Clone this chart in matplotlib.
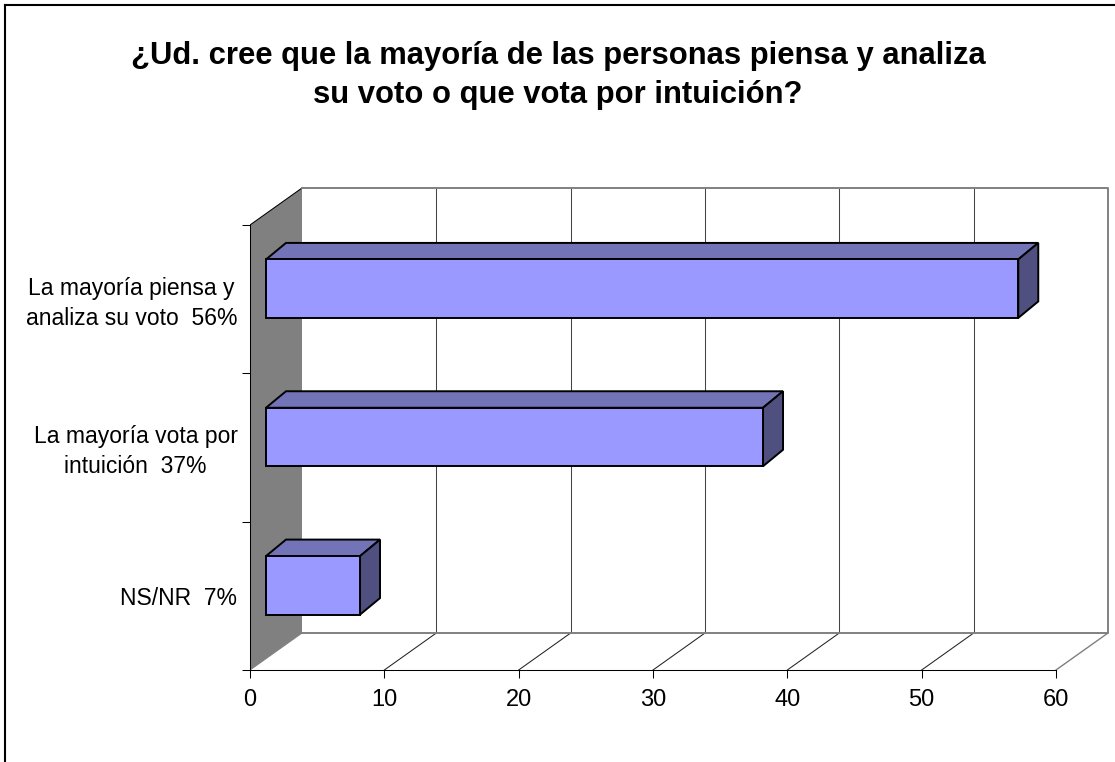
#!/usr/bin/env python3
# -*- coding: utf-8 -*-
import matplotlib
matplotlib.use('Agg')
import matplotlib.pyplot as plt
from matplotlib.lines import Line2D
from matplotlib.patches import Polygon
from matplotlib.transforms import ScaledTranslation

plt.rcParams['font.family'] = ['Liberation Sans', 'DejaVu Sans']

# Data (bottom to top as drawn)
categories = ['NS/NR  7%', 'La mayoría vota por\nintuición  37%', 'La mayoría piensa y\nanaliza su voto  56%']
values = [7, 37, 56]
x_ticks = [0, 10, 20, 30, 40, 50, 60]
title = '¿Ud. cree que la mayoría de las personas piensa y analiza\nsu voto o que vota por intuición?'

W, H = 1115, 762
# pixel layout of the plot box
left, right, top, bottom = 250, 1108, 187.5, 670
px_x = (1056 - 250) / 60      # pixels per value unit
px_y = (670 - 225) / 3        # pixels per category

# fake 3D offsets, converted to data units
wall_dx = 52 / px_x
wall_dy = 37 / px_y
bar_x0 = 16 / px_x
bar_y0 = 10.5 / px_y
bar_dx = 20 / px_x
bar_dy = 16.5 / px_y
bar_h = 58.5 / px_y

FACE = '#9999FF'
TOP = '#7373B8'
SIDE = '#4F4F80'
WALL = '#808080'
GRID = '#444444'

fig = plt.figure(figsize=(W / 100, H / 100), dpi=100, facecolor='white')
ax = fig.add_axes([left / W, 1 - bottom / H, (right - left) / W, (bottom - top) / H])
ax.set_xlim(0, (right - left) / px_x)
ax.set_ylim(0, (bottom - top) / px_y)
ax.patch.set_visible(False)

n = len(categories)
y_top = n + wall_dy
x_end = x_ticks[-1]

# side wall
ax.add_patch(Polygon([(0, 0), (wall_dx, wall_dy), (wall_dx, y_top), (0, n)],
                     closed=True, fc=WALL, ec='none', zorder=1))
ax.plot([0, wall_dx], [n, y_top], color='black', lw=0.75, zorder=2)
ax.plot([0, wall_dx], [0, wall_dy], color=WALL, lw=0.75, zorder=2)

# back wall and floor
for v in x_ticks[1:-1]:
    ax.plot([v + wall_dx, v + wall_dx], [wall_dy, y_top], color=GRID, lw=0.75, zorder=2, clip_on=False)
    ax.plot([v, v + wall_dx], [0, wall_dy], color='#222222', lw=0.75, zorder=2)
ax.plot([wall_dx, x_end + wall_dx, x_end + wall_dx, wall_dx],
        [y_top, y_top, wall_dy, wall_dy], color=WALL, lw=1.4, zorder=2, clip_on=False)
ax.plot([x_end, x_end + wall_dx], [0, wall_dy], color=WALL, lw=1, zorder=2, clip_on=False)

# bars
ys = [i + 0.5 + bar_y0 for i in range(n)]
ax.barh(ys, values, height=bar_h, left=bar_x0, color=FACE, edgecolor='black', linewidth=1.4, zorder=4)
for y, v in zip(ys, values):
    x0 = bar_x0
    x1 = bar_x0 + v
    y0 = y - bar_h / 2
    y1 = y + bar_h / 2
    ax.add_patch(Polygon([(x0, y1), (x1, y1), (x1 + bar_dx, y1 + bar_dy), (x0 + bar_dx, y1 + bar_dy)],
                         closed=True, fc=TOP, ec='black', lw=1.4, zorder=3))
    ax.add_patch(Polygon([(x1, y0), (x1 + bar_dx, y0 + bar_dy), (x1 + bar_dx, y1 + bar_dy), (x1, y1)],
                         closed=True, fc=SIDE, ec='black', lw=1.4, zorder=3))

# axes
for s in ['top', 'right']:
    ax.spines[s].set_visible(False)
ax.spines['left'].set_bounds(0, n)
ax.spines['bottom'].set_bounds(0, x_end)
ax.spines['left'].set_linewidth(0.75)
ax.spines['bottom'].set_linewidth(0.75)
ax.set_xticks(x_ticks)
ax.tick_params(axis='x', length=5.8, width=0.75, labelsize=17, pad=8)
ax.set_yticks(range(n + 1))
ax.set_yticklabels([])
ax.tick_params(axis='y', which='major', length=5.8, width=0.75)
ax.set_yticks([i + 0.5 for i in range(n)], minor=True)
labels = ax.set_yticklabels(categories, minor=True, fontsize=16.5, linespacing=1.4, multialignment='center')
ax.tick_params(axis='y', which='minor', length=0, pad=9)

# two line labels sit a bit higher in the original
nudge = ScaledTranslation(0, 2 / 100, fig.dpi_scale_trans)
for lbl in labels:
    if '\n' in lbl.get_text():
        lbl.set_transform(lbl.get_transform() + nudge)

fig.text(558 / W, 1 - 75.5 / H, title, ha='center', va='center', fontsize=22.3,
         fontweight='bold', linespacing=1.36)

# outer frame, only top and left show in the crop
fig.add_artist(Line2D([5 / W, 5 / W], [0, 1 - 5 / H], color='black', lw=1.5))
fig.add_artist(Line2D([5 / W, 1], [1 - 5 / H, 1 - 5 / H], color='black', lw=1.5))

fig.savefig('out.png', dpi=100)
